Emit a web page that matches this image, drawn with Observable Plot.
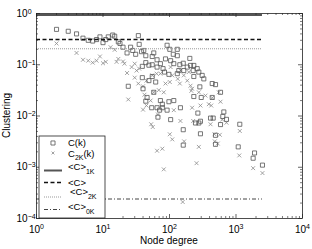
<!DOCTYPE html>
<html><head><meta charset="utf-8">
<script src="https://cdn.jsdelivr.net/npm/d3@7"></script>
<script src="https://cdn.jsdelivr.net/npm/@observablehq/plot@0.6"></script>
<style>body{margin:0;background:#fff}</style>
</head><body><div id="chart"></div>
<script>
// C(k): measured clustering per node degree
const ckDegree = [2,3,4,5,6,7,8,9,10,11, 12,14,15,17,18,20,23,26,28,31, 34,35,38,41,44,44,39,49,55,58, 49,39,55,24,40,46,44,54,58,62,
  92,101,131,114,131,65,73,87,104,116, 143,161,202,207,232,185,55,65,80,84, 98,131,138,164,227,261,276,232,310,328,
  286,439,492,585,439,300,232,116,98,73, 65,78,92,146,656,633,719,414,454,585, 292,1140,492,1080,1900,1810,2500,
  71,78,104,161,246,276,267,292,492,67,161];
const ckValue = [0.49,0.45,0.40,0.33,0.30,0.29,0.31,0.35,0.27,0.31, 0.35,0.38,0.36,0.28,0.26,0.22,0.17,0.22,0.19,0.16, 0.37,0.25,0.18,0.19,0.15,0.11,0.093,0.098,0.145,0.17, 0.049,0.056,0.059,0.038,0.034,0.023,0.0195,0.0145,0.029,0.046,
  0.24,0.20,0.20,0.16,0.15,0.125,0.105,0.13,0.12,0.105, 0.10,0.107,0.133,0.097,0.097,0.090,0.10,0.090,0.084,0.072, 0.065,0.067,0.077,0.077,0.077,0.084,0.072,0.059,0.062,0.053,
  0.037,0.043,0.041,0.029,0.023,0.023,0.024,0.020,0.019,0.020, 0.0145,0.0145,0.013,0.0145,0.012,0.0098,0.0086,0.0091,0.0091,0.0068, 0.0079,0.0069,0.0042,0.0025,0.0019,0.0015,0.0011,
  0.013,0.017,0.0085,0.0054,0.0073,0.0073,0.0114,0.0045,0.0028,0.0095,0.0027];
// C_2K(k)
const c2kDegree = [2,4,5,6,7,8,9,10,11,16, 17,20,21,23,27,30,32,35,30,34, 40,45,42,24,40,52,15,13,64,73, 87,101,82,69,58,110,133,143,185,207,
  219,213,276,348,439,551,390,219,146,195, 164,104,55,45,67,292,424,585,53,56, 146,227,414,620,101,110,532,116,166,276,
  65,78,255,82,158,719,571,1140,1120,1810, 2500,475,480];
const c2kValue = [0.26,0.17,0.125,0.12,0.11,0.12,0.145,0.107,0.114,0.114, 0.13,0.116,0.105,0.069,0.090,0.105,0.077,0.084,0.056,0.043, 0.038,0.049,0.026,0.021,0.0133,0.020,0.196,0.22,0.067,0.067,
  0.043,0.046,0.029,0.032,0.029,0.062,0.053,0.043,0.049,0.039, 0.034,0.031,0.029,0.025,0.0227,0.029,0.017,0.0145,0.077,0.072, 0.062,0.090,0.062,0.016,0.0107,0.016,0.016,0.019,0.0069,0.0061,
  0.008,0.008,0.0069,0.0085,0.0044,0.0035,0.0029,0.013,0.0032,0.0025, 0.0021,0.0023,0.0012,0.00091,0.00021,0.0074,0.0043,0.0051,0.0017,0.00096, 0.00077,0.0044,0.0032];
// average clustering levels
const avgC1K = 0.93, avgC = 0.31, avgC2K = 0.205, avgC0K = 0.00024;
const xTicks = [1,10,100,1000,10000];
const yTicks = [1e-4,1e-3,1e-2,1e-1,1];
const xLabel = "Node degree", yLabel = "Clustering";

const ck = ckDegree.map((k,i)=>({k, c: ckValue[i]}));
const c2k = c2kDegree.map((k,i)=>({k, c: c2kValue[i]}));
const kMax = d3.max(ckDegree);
const minor = (ticks) => ticks.slice(0,-1).flatMap(t => d3.range(2,10).map(m => m*t));
const xMinor = minor(xTicks), yMinor = minor(yTicks);

const W = 312, H = 249, mL = 36, mR = 10, mT = 13, mB = 31;
const iW = W - mL - mR, iH = H - mT - mB;
const axisColor = "#222";

const chart = Plot.plot({
  width: W, height: H, marginLeft: mL, marginRight: mR, marginTop: mT, marginBottom: mB,
  style: {fontFamily: "'Liberation Sans', Arial, sans-serif", fontSize: "10px", background: "#fff", color: "#000"},
  x: {type: "log", domain: [xTicks[0], xTicks[xTicks.length-1]]},
  y: {type: "log", domain: [yTicks[0], yTicks[yTicks.length-1]]},
  marks: [
    Plot.dot(c2k, {x: "k", y: "c", symbol: "times", r: 1.9, stroke: "#8a8a8a", strokeWidth: 0.8}),
    Plot.dot(ck, {x: "k", y: "c", symbol: "square", r: 2.3, stroke: "#555", strokeWidth: 0.8, fill: "none"}),
    Plot.ruleY([avgC1K], {x1: xTicks[0], x2: kMax, stroke: "#555", strokeWidth: 2}),
    Plot.ruleY([avgC], {x1: xTicks[0], x2: kMax, stroke: "#111", strokeWidth: 1.4, strokeDasharray: "4,2.5"}),
    Plot.ruleY([avgC2K], {x1: xTicks[0], x2: kMax, stroke: "#999", strokeWidth: 1, strokeDasharray: "1,1"}),
    Plot.ruleY([avgC0K], {x1: xTicks[0], x2: kMax, stroke: "#444", strokeWidth: 1, strokeDasharray: "4,2,1,2"}),
    Plot.tickX(xTicks, {x: d=>d, insetTop: iH-4, stroke: axisColor, strokeWidth: 0.7}),
    Plot.tickX(xTicks, {x: d=>d, insetBottom: iH-4, stroke: axisColor, strokeWidth: 0.7}),
    Plot.tickX(xMinor, {x: d=>d, insetTop: iH-2, stroke: axisColor, strokeWidth: 0.6}),
    Plot.tickX(xMinor, {x: d=>d, insetBottom: iH-2, stroke: axisColor, strokeWidth: 0.6}),
    Plot.tickY(yTicks, {y: d=>d, insetRight: iW-4, stroke: axisColor, strokeWidth: 0.7}),
    Plot.tickY(yTicks, {y: d=>d, insetLeft: iW-4, stroke: axisColor, strokeWidth: 0.7}),
    Plot.tickY(yMinor, {y: d=>d, insetRight: iW-2, stroke: axisColor, strokeWidth: 0.6}),
    Plot.tickY(yMinor, {y: d=>d, insetLeft: iW-2, stroke: axisColor, strokeWidth: 0.6}),
    Plot.frame({stroke: axisColor, strokeWidth: 0.8}),
    Plot.axisX({ticks: xTicks, tickSize: 0, tickPadding: 7, label: null, tickFormat: d => String(Math.round(Math.log10(d)))}),
    Plot.axisY({ticks: yTicks, tickSize: 0, tickPadding: 0, textAnchor: "start", dx: -20, label: null, tickFormat: d => String(Math.round(Math.log10(d)))})
  ]
});

const svg = d3.select(chart);
// superscript powers of ten
svg.selectAll('g[aria-label="x-axis tick label"] text, g[aria-label="y-axis tick label"] text').each(function(){
  const e = this.textContent.replace("−","-");
  const t = d3.select(this);
  t.text(null);
  t.append("tspan").text("10");
  t.append("tspan").attr("dy", "-0.45em").attr("font-size", "7px").text(e.replace("-","\u2212"));
});

const font = "'Liberation Sans', Arial, sans-serif";
svg.append("text").attr("x", mL + iW/2).attr("y", H - 5).attr("text-anchor", "middle")
  .attr("font-family", font).attr("font-size", 10).text(xLabel);
svg.append("text").attr("transform", `translate(10,${mT + iH/2}) rotate(-90)`).attr("text-anchor", "middle")
  .attr("font-family", font).attr("font-size", 10).text(yLabel);

// legend
const lg = svg.append("g").attr("font-family", font).attr("font-size", 9.5).attr("text-anchor", "start");
lg.append("rect").attr("x", 39).attr("y", 136).attr("width", 66).attr("height", 82)
  .attr("fill", "#fff").attr("stroke", axisColor).attr("stroke-width", 0.8);
lg.append("path").attr("d", d3.symbol(d3.symbolSquare, 2.3*2.3*Math.PI)()).attr("transform","translate(53,143)")
  .attr("fill","none").attr("stroke","#555").attr("stroke-width",0.8);
lg.append("path").attr("d", "M-1.4,-1.4L1.4,1.4M1.4,-1.4L-1.4,1.4").attr("transform","translate(53,153)")
  .attr("fill","none").attr("stroke","#8a8a8a").attr("stroke-width",0.8);
function label(x, y, main, sub, tail){
  const t = lg.append("text").attr("x", x).attr("y", y).attr("text-anchor", "start");
  t.append("tspan").text(main);
  if (sub) t.append("tspan").attr("dy", 3.5).attr("font-size", "7px").text(sub);
  if (tail) t.append("tspan").attr("dy", -3.5).text(tail);
}
label(68, 146, "C(k)");
label(68, 156.5, "C", "2K", "(k)");
label(68, 170, "<C>", "1K");
label(68, 185.5, "<C>");
label(70, 195, "<C>", "2K");
label(68, 210, "<C>", "0K");
const seg = (y, stroke, w, dash) => lg.append("line").attr("x1", 44).attr("x2", 62).attr("y1", y).attr("y2", y)
  .attr("stroke", stroke).attr("stroke-width", w).attr("stroke-dasharray", dash);
seg(170.5, "#555", 2, null);
seg(182.5, "#111", 1.4, "4,2.5");
seg(197, "#999", 1, "1,1");
seg(209.5, "#444", 1, "4,2,1,2");

document.getElementById("chart").appendChild(chart);
</script>
</body></html>
